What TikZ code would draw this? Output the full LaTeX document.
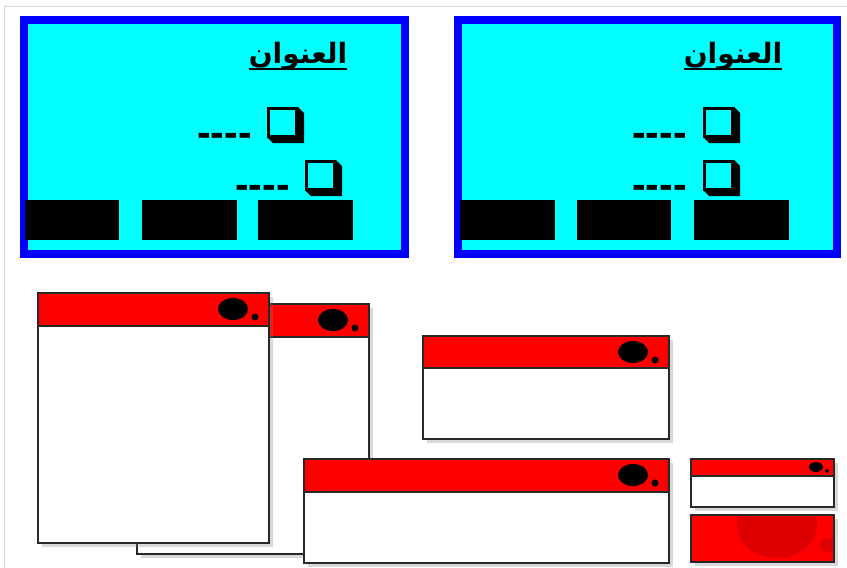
\documentclass[tikz,border=0pt]{standalone}
\usepackage{fontspec}
\setmainfont{Liberation Sans}
\newfontfamily\dashfont{Liberation Sans}
\newfontfamily\arabicfont[Script=Arabic]{DejaVu Sans}
\TeXXeTstate=1
\usetikzlibrary{shadows}
\definecolor{panelblue}{RGB}{0,0,255}
\definecolor{panelcyan}{RGB}{0,255,255}
\definecolor{winred}{RGB}{255,0,0}
\definecolor{darkred}{RGB}{222,0,0}
\definecolor{framegray}{RGB}{216,216,216}
\definecolor{winline}{RGB}{40,40,40}
\tikzset{
  panel/.style={draw=panelblue, fill=panelcyan, line width=8pt,
    drop shadow={shadow xshift=2pt, shadow yshift=-2pt, opacity=0.35}},
  btn/.style={fill=black},
  winbody/.style={fill=white,
    drop shadow={shadow xshift=3.5pt, shadow yshift=-3.5pt, opacity=0.3}},
  winedge/.style={draw=winline, line width=1.3pt},
  title/.style={font=\arabicfont\bfseries\fontsize{28}{30}\selectfont, inner sep=0pt, anchor=base},
  uline/.style={line width=2.5pt},
  dashes/.style={font=\dashfont\bfseries\fontsize{41}{42}\selectfont, inner sep=0pt, anchor=base east},
  chkfront/.style={draw=black, fill=panelcyan, line width=3pt}
}
\newcommand\chkbox[2]{%
  \fill[black] (#1,#2) -- ({#1+31},#2) -- ({#1+37},{#2+6}) -- ({#1+37},{#2+36}) -- ({#1+6},{#2+36}) -- (#1,{#2+30}) -- cycle;
  \path[chkfront] ({#1+1.5},{#2+1.5}) rectangle ({#1+29.5},{#2+29.5});
}
\newcommand\winbox[5]{%
  \path[winbody] (#1,#2) rectangle (#3,#4);
  \fill[winred] (#1,#2) rectangle (#3,#5);
  \draw[winedge] (#1,#2) rectangle (#3,#4);
  \draw[winedge] (#1,#5) -- (#3,#5);
  \fill[black] ({#3-36},{#2+16}) ellipse [x radius=15, y radius=11];
  \fill[black] ({#3-14},{#2+24}) circle [radius=3.5];
}
\begin{document}
\begin{tikzpicture}[x=1pt,y=-1pt]
\useasboundingbox (0,0) rectangle (847,568);
\fill[white] (0,0) rectangle (847,568);
% page frame
\draw[framegray, line width=1pt] (4,568) -- (4,6) -- (847,6);

% ---------- left panel ----------
\path[panel] (24,19.5) rectangle (405,253.5);
\node[title] (t1) at (298,63) {\beginR العنوان\endR};
\draw[uline] ([yshift=-6pt]t1.base west) -- ([yshift=-6pt]t1.base east);
\chkbox{267}{107}
\chkbox{305}{160}
\node[dashes] (d1) at (252,146) {----};
\node[dashes] (d2) at (290,198) {----};
\fill[btn] (25,200) rectangle (119,240);
\fill[btn] (142,200) rectangle (237,240);
\fill[btn] (258,200) rectangle (353,240);

% ---------- right panel ----------
\path[panel] (458,19.5) rectangle (837,253.5);
\node[title] (t2) at (733,63) {\beginR العنوان\endR};
\draw[uline] ([yshift=-6pt]t2.base west) -- ([yshift=-6pt]t2.base east);
\chkbox{703}{107}
\chkbox{703}{160}
\node[dashes] (d3) at (687,146) {----};
\node[dashes] (d4) at (687,198) {----};
\fill[btn] (460,200) rectangle (555,240);
\fill[btn] (577,200) rectangle (671,240);
\fill[btn] (694,200) rectangle (789,240);

% ---------- windows ----------
\winbox{137}{304}{369}{554}{337}
\winbox{38}{293}{269}{543}{326}
\winbox{423}{336}{669}{439}{368}
\winbox{304}{459}{669}{563}{492}
% small window
\path[winbody] (691,459) rectangle (834,507);
\fill[winred] (691,459) rectangle (834,476);
\draw[winedge] (691,459) rectangle (834,507);
\draw[winedge] (691,476) -- (834,476);
\fill[black] (816,467) ellipse [x radius=7, y radius=5];
\fill[black] (827,471) circle [radius=2];
% red window
\path[winbody] (691,515) rectangle (834,562);
\fill[winred] (691,515) rectangle (834,562);
\begin{scope}
  \clip (691,515) rectangle (834,562);
  \fill[darkred] (777,525) ellipse [x radius=40, y radius=33];
  \fill[darkred] (827,545) circle [radius=7];
\end{scope}
\draw[winedge] (691,515) rectangle (834,562);
\end{tikzpicture}
\end{document}
